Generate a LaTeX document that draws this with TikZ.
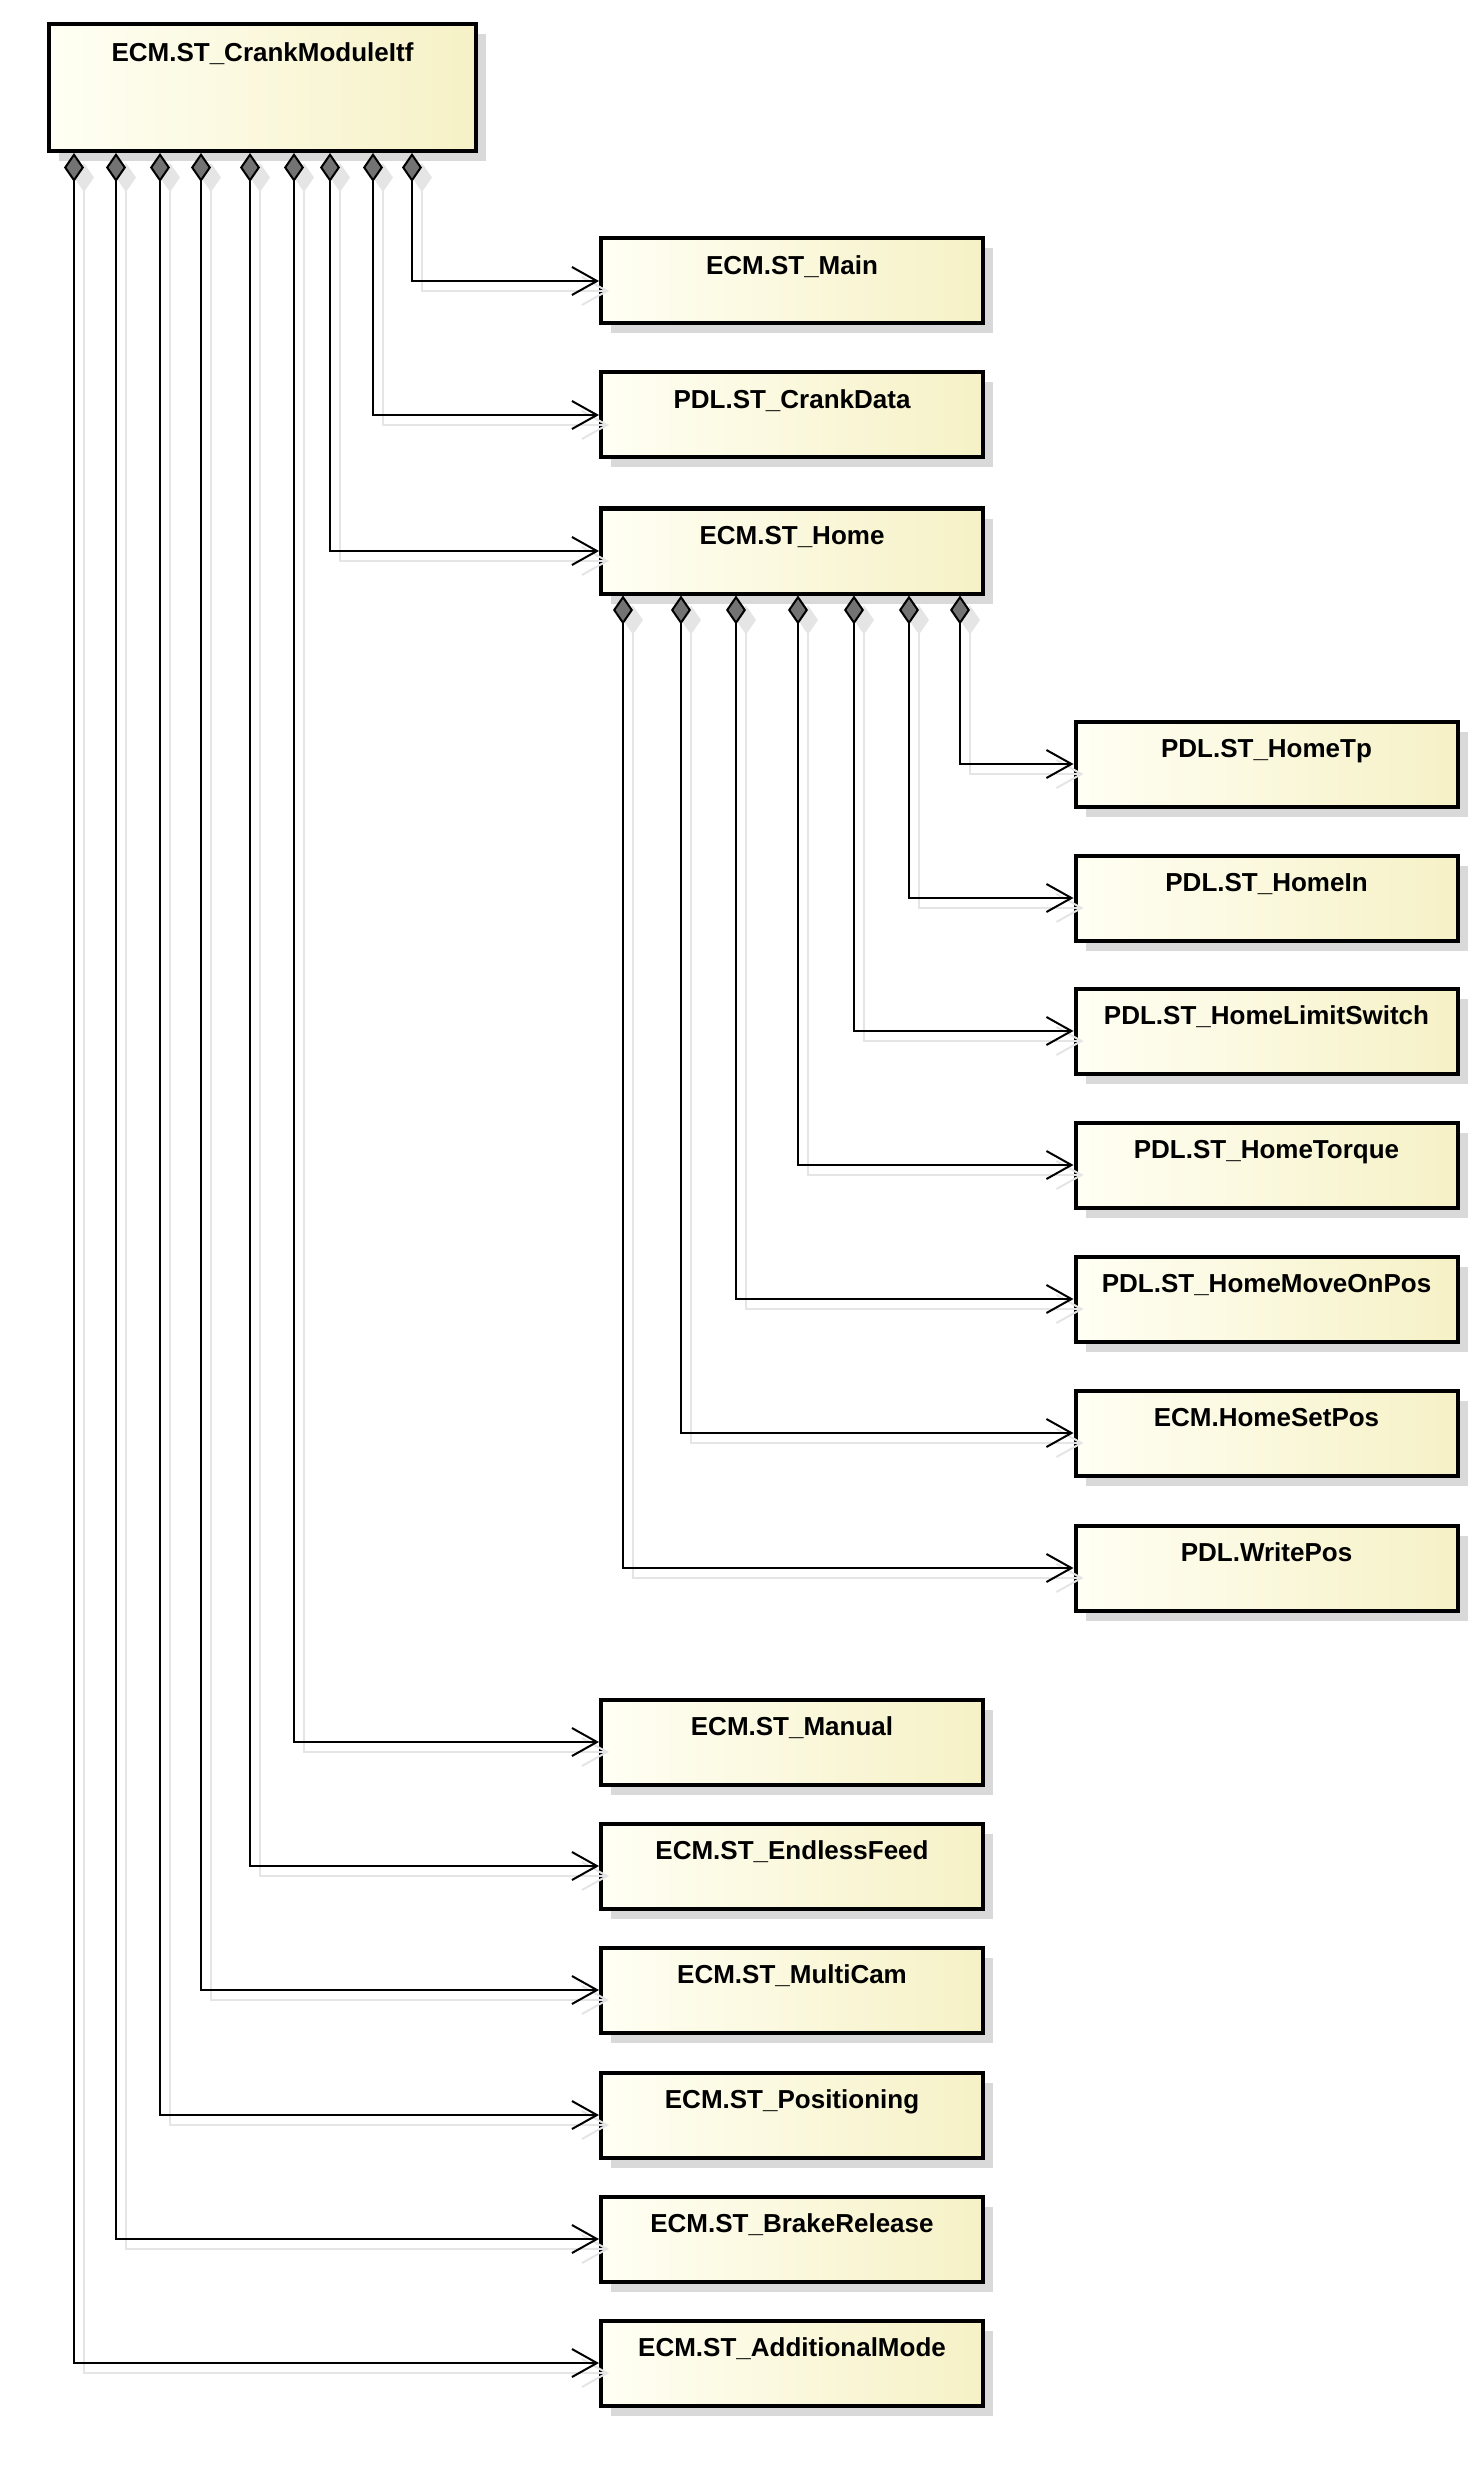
\documentclass[tikz,border=0pt]{standalone}
\usepackage{fontspec}
\usepackage{xcolor}
\usepackage{tikz}
\usetikzlibrary{positioning,arrows.meta,shadows}
\newfontfamily\umlfont{Liberation Sans}
\definecolor{umlpale}{HTML}{FFFFF4}
\definecolor{umlcream}{HTML}{F6F1C6}
\tikzset{
umlbox/.style={draw, line width=2pt, left color=umlpale, right color=umlcream, minimum width=191pt, minimum height=42.5pt, inner sep=0pt, text height=18pt, text depth=24.5pt, font=\umlfont\bfseries\fontsize{13pt}{15pt}\selectfont, drop shadow={shadow xshift=5pt, shadow yshift=-5pt, fill=black!15, opacity=1}},
topbox/.style={umlbox, minimum width=213.5pt, minimum height=63.5pt, text height=19pt, text depth=44.5pt},
linkline/.style={line width=1pt, {Diamond[length=14.5pt,width=10pt,fill=black!55]}-{Straight Barb[length=12.5pt,width=14pt]}},
linkshade/.style={line width=1pt, draw=black!10, {Diamond[length=14.5pt,width=10pt,fill=black!10]}-{Straight Barb[length=12.5pt,width=14pt]}}
}
\newcommand{\assoc}[2]{%
\draw[linkshade] ([shift={(5pt,-5pt)}]#1) |- ([shift={(5pt,-5pt)}]#2.west);
\draw[linkline] (#1) |- (#2.west);
}

\begin{document}
\begin{tikzpicture}[x=0.5pt, y=-0.5pt]
\useasboundingbox (0,0) rectangle (1482,2466);

\node[topbox] (crank) at (262.5,87.5) {ECM.ST\_CrankModuleItf};

\node[umlbox] (main) at (792,281) {ECM.ST\_Main};
\node[umlbox] (crankdata) at (792,415) {PDL.ST\_CrankData};
\node[umlbox] (home) at (792,551) {ECM.ST\_Home};
\node[umlbox] (manual) at (792,1742) {ECM.ST\_Manual};
\node[umlbox] (endless) at (792,1866) {ECM.ST\_EndlessFeed};
\node[umlbox] (multicam) at (792,1990) {ECM.ST\_MultiCam};
\node[umlbox] (positioning) at (792,2115) {ECM.ST\_Positioning};
\node[umlbox] (brake) at (792,2239) {ECM.ST\_BrakeRelease};
\node[umlbox] (addmode) at (792,2363) {ECM.ST\_AdditionalMode};

\node[umlbox] (hometp) at (1266.5,764) {PDL.ST\_HomeTp};
\node[umlbox] (homein) at (1266.5,898) {PDL.ST\_HomeIn};
\node[umlbox] (limitswitch) at (1266.5,1031) {PDL.ST\_HomeLimitSwitch};
\node[umlbox] (torque) at (1266.5,1165) {PDL.ST\_HomeTorque};
\node[umlbox] (moveonpos) at (1266.5,1299) {PDL.ST\_HomeMoveOnPos};
\node[umlbox] (setpos) at (1266.5,1433) {ECM.HomeSetPos};
\node[umlbox] (writepos) at (1266.5,1568) {PDL.WritePos};

% parts of the crank module
\foreach \x/\n in {412/main, 373/crankdata, 330/home, 294/manual, 250/endless, 201/multicam, 160/positioning, 116/brake, 74/addmode}{
	\coordinate (p-\n) at (\x,0 |- crank.south);
	\assoc{p-\n}{\n}
}
% parts of home
\foreach \x/\n in {960/hometp, 909/homein, 854/limitswitch, 798/torque, 736/moveonpos, 681/setpos, 623/writepos}{
	\coordinate (q-\n) at (\x,0 |- home.south);
	\assoc{q-\n}{\n}
}
\end{tikzpicture}
\end{document}
